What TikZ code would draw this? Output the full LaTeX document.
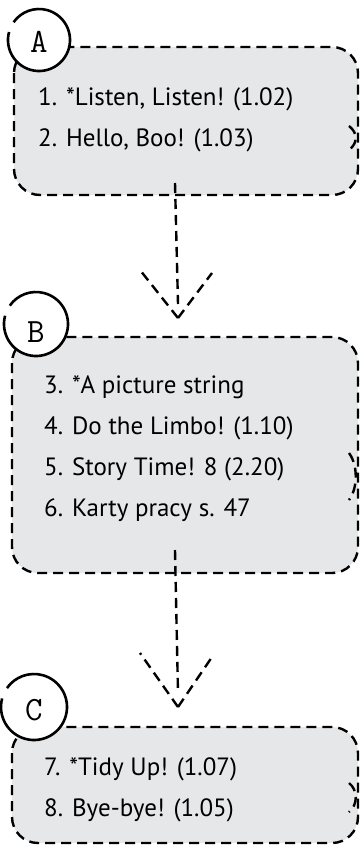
\documentclass[tikz,border=0pt]{standalone}
\usepackage{fontspec}
\setmainfont{PT Sans}
\usetikzlibrary{positioning,backgrounds}
\definecolor{boxgray}{HTML}{E6E7E8}

\begin{document}
\begin{tikzpicture}[x=1pt,y=-1pt,% pixel-like coordinates, y grows downwards
        box/.style={draw=black,fill=boxgray,line width=2.4pt,dash pattern=on 10pt off 6pt,rounded corners=26pt},
        link/.style={draw=black,line width=2.4pt,dash pattern=on 10pt off 6pt},
        ring/.style={draw=black,line width=2.6pt},
        item/.style={anchor=base west,inner sep=0pt,font=\fontsize{25}{29}\selectfont},
        tag/.style={inner sep=0pt,font=\ttfamily\fontsize{34}{38}\selectfont}]
\useasboundingbox (0,0) rectangle (360,846);

% the three boxes
\draw[box] (14,47) rectangle (358,195);
\draw[box] (12,337) rectangle (358,573);
\draw[box] (12,727) rectangle (358,843);

% little kinks on the right edges
\draw[link] (349,126) .. controls (358,133) and (358,143) .. (349,150);
\draw[link] (349,453) .. controls (358,465) and (358,488) .. (349,500);
\draw[link] (349,783) .. controls (358,790) and (358,805) .. (349,812);

% circled letters
\foreach \n/\cx/\cy/\r/\ty in {A/39/40/31/42,B/36/324/32/332,C/34/707/33/710}{ %\n is the letter
\fill[white] (\cx,\cy) circle (\r pt);
\draw[ring] (\cx,\cy) ++(165:\r pt) arc[start angle=165,end angle=505,radius=\r pt];
\node[tag] (tag\n) at (\cx,\ty) {\n};
}

% list items
\foreach[count=\i] \t in {{1. *Listen, Listen! (1.02)},{2. Hello, Boo! (1.03)}}{
\node[item] (A-\i) at (38,{64+41*\i}) {\t};
}
\foreach[count=\i] \t in {{3. *A picture string},{4. Do the Limbo! (1.10)},{5. Story Time! 8 (2.20)},{6. Karty pracy s. 47}}{
\node[item] (B-\i) at (44,{352+41*\i}) {\t};
}
\foreach[count=\i] \t in {{7. *Tidy Up! (1.07)},{8. Bye-bye! (1.05)}}{
\node[item] (C-\i) at (44,{734+41*\i}) {\t};
}

% dashed arrows between the boxes
\coordinate (A-out) at (175,183);
\coordinate (B-in) at (178,318);
\coordinate (B-out) at (175,550);
\coordinate (C-in) at (178,707);
\draw[link] (A-out) -- ([yshift=14pt]B-in);
\draw[link] (B-in) -- ++(-38,-48) (B-in) -- ++(34,-45);
\draw[link] (B-out) -- ([yshift=14pt]C-in);
\draw[link] (C-in) -- ++(-38,-54) (C-in) -- ++(34,-50);
\end{tikzpicture}
\end{document}
